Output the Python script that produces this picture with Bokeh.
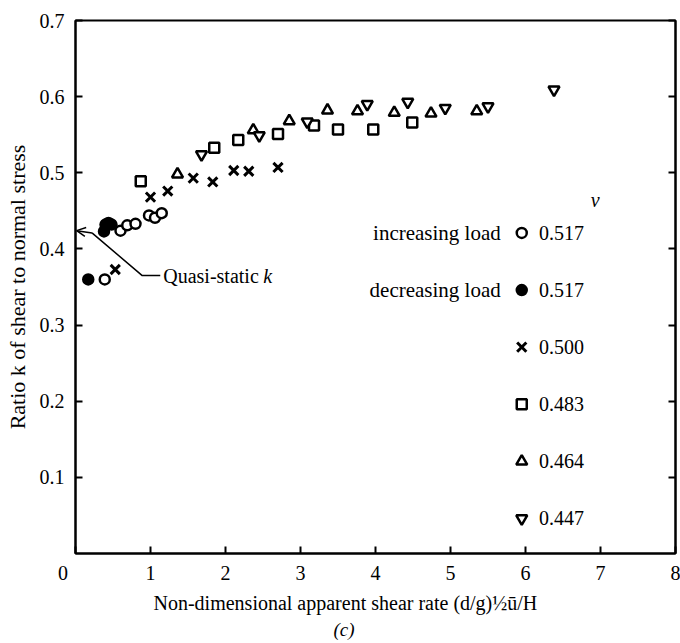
from bokeh.plotting import figure
from bokeh.models import Label, Arrow, OpenHead, FixedTicker, LinearAxis, Range1d, Title
from bokeh.embed import file_html
from bokeh.resources import INLINE
from bokeh.core.properties import value

FONT = "Liberation Serif"
TFS = "20px"

# ---- data ----
inc_x = [0.39, 0.60, 0.69, 0.80, 0.98, 1.06, 1.15]
inc_y = [0.360, 0.424, 0.431, 0.433, 0.444, 0.441, 0.447]

dec_x = [0.17, 0.38, 0.40, 0.44, 0.48]
dec_y = [0.360, 0.423, 0.432, 0.434, 0.432]

x500_x = [0.53, 1.00, 1.23, 1.57, 1.83, 2.11, 2.31, 2.70]
x500_y = [0.373, 0.468, 0.476, 0.493, 0.488, 0.503, 0.502, 0.507]

sq_x = [0.87, 1.85, 2.17, 2.70, 3.18, 3.50, 3.97, 4.49]
sq_y = [0.489, 0.533, 0.543, 0.551, 0.562, 0.557, 0.557, 0.566]

tu_x = [1.36, 2.37, 2.85, 3.36, 3.76, 4.25, 4.74, 5.35]
tu_y = [0.498, 0.556, 0.568, 0.582, 0.581, 0.579, 0.578, 0.581]

td_x = [1.68, 2.45, 3.09, 3.89, 4.43, 4.93, 5.50, 6.38]
td_y = [0.524, 0.549, 0.567, 0.590, 0.593, 0.585, 0.587, 0.609]

x_ticks = [0, 1, 2, 3, 4, 5, 6, 7, 8]
y_ticks = [0.1, 0.2, 0.3, 0.4, 0.5, 0.6, 0.7]

legend_desc = ["increasing load", "decreasing load", "", "", "", ""]
legend_nu = ["0.517", "0.517", "0.500", "0.483", "0.464", "0.447"]
legend_markers = ["circle", "circle", "x", "square", "triangle", "inverted_triangle"]
legend_fill = ["white", "black", "black", "white", "white", "white"]

x_label = "Non-dimensional apparent shear rate (d/g)½ū/H"
y_label = "Ratio k of shear to normal stress"
panel_label = "(c)"

# ---- figure ----
p = figure(width=680, height=643, x_range=Range1d(0, 8), y_range=Range1d(0, 0.7),
           output_backend="svg", toolbar_location=None,
           min_border_left=75, min_border_right=5, min_border_top=20, min_border_bottom=90)
p.xgrid.visible = False
p.ygrid.visible = False
p.outline_line_color = "black"
p.outline_line_width = 2
p.background_fill_color = "white"
p.border_fill_color = "white"

for ax in (p.xaxis[0], p.yaxis[0]):
    ax.major_tick_in = 7
    ax.major_tick_out = 0
    ax.minor_tick_line_color = None
    ax.axis_line_width = 2
    ax.major_tick_line_width = 2
    ax.major_label_text_font = FONT
    ax.major_label_text_font_size = TFS
    ax.major_label_text_color = "black"
    ax.axis_label_text_font = FONT
    ax.axis_label_text_font_style = "normal"
    ax.axis_label_text_color = "black"
p.xaxis.ticker = FixedTicker(ticks=x_ticks)
p.xaxis.major_label_overrides = {0: "0" + "\u00a0" * 5}
p.yaxis.ticker = FixedTicker(ticks=y_ticks)
p.xaxis.major_label_standoff = 8
p.yaxis.major_label_standoff = 11
p.yaxis.axis_label = y_label
p.yaxis.axis_label_text_font_size = "22px"
p.yaxis.axis_label_standoff = 7

rax = LinearAxis(ticker=FixedTicker(ticks=y_ticks), major_tick_in=7, major_tick_out=0,
                 minor_tick_line_color=None, axis_line_width=2, major_tick_line_width=2,
                 major_label_overrides={t: "" for t in y_ticks},
                 major_label_text_font_size="1px", major_label_standoff=0)
p.add_layout(rax, "right")

p.add_layout(Title(text=x_label, align="left", offset=78, text_font=FONT, text_font_size="20px",
                   text_font_style="normal", text_color="black", standoff=6), "below")
p.add_layout(Title(text=panel_label, align="left", offset=258, text_font=FONT, text_font_size="19px",
                   text_font_style="italic", text_color="black", standoff=0), "below")

# ---- data marks ----
MS = 10
LW = 2.5
p.scatter(inc_x, inc_y, marker="circle", size=MS, fill_color="white", line_color="black", line_width=LW)
p.scatter(dec_x, dec_y, marker="circle", size=MS, fill_color="black", line_color="black", line_width=LW)
p.scatter(x500_x, x500_y, marker="x", size=MS + 3, line_color="black", line_width=3)
p.scatter(sq_x, sq_y, marker="square", size=MS, fill_color="white", line_color="black", line_width=LW)
p.scatter(tu_x, tu_y, marker="triangle", size=MS + 1, fill_color="white", line_color="black", line_width=LW)
p.scatter(td_x, td_y, marker="inverted_triangle", size=MS + 1, fill_color="white", line_color="black", line_width=LW)

# ---- legend ----
LEG_MX = 5.95
LEG_TX = 6.18
LEG_DX = 5.67
LEG_Y0 = 0.421
LEG_DY = 0.075
for i in range(6):
    yy = LEG_Y0 - i * LEG_DY
    m = legend_markers[i]
    if m == "x":
        p.scatter([LEG_MX], [yy], marker="x", size=MS + 3, line_color="black", line_width=3)
    else:
        p.scatter([LEG_MX], [yy], marker=m, size=MS + (1 if "triangle" in m else 0),
                  fill_color=legend_fill[i], line_color="black", line_width=LW)
    p.text([LEG_TX], [yy], text=[legend_nu[i]], text_font=value(FONT), text_font_size=TFS,
           text_align="left", text_baseline="middle", text_color="black")
    if legend_desc[i]:
        p.text([LEG_DX], [yy], text=[legend_desc[i]], text_font=value(FONT), text_font_size="21px",
               text_align="right", text_baseline="middle", text_color="black")
p.text([6.93], [0.464], text=["ν"], text_font=value(FONT), text_font_size=TFS, text_font_style="italic",
       text_align="center", text_baseline="middle", text_color="black")

# ---- quasi-static annotation ----
p.line([0.22, 0.89, 1.13], [0.421, 0.365, 0.365], line_color="black", line_width=1.5)
p.add_layout(Arrow(end=OpenHead(size=9, line_width=1.5), x_start=0.22, y_start=0.421,
                   x_end=0.015, y_end=0.424, line_width=1.5, line_color="black"))
p.add_layout(Label(x=1.17, y=0.365, text="Quasi-static ", text_font=FONT, text_font_size=TFS,
                   text_baseline="middle", text_color="black"))
p.add_layout(Label(x=1.17, y=0.365, x_offset=100, text="k", text_font=FONT, text_font_size=TFS,
                   text_font_style="italic", text_baseline="middle", text_color="black"))

open("out.html", "w").write(file_html(p, INLINE))
